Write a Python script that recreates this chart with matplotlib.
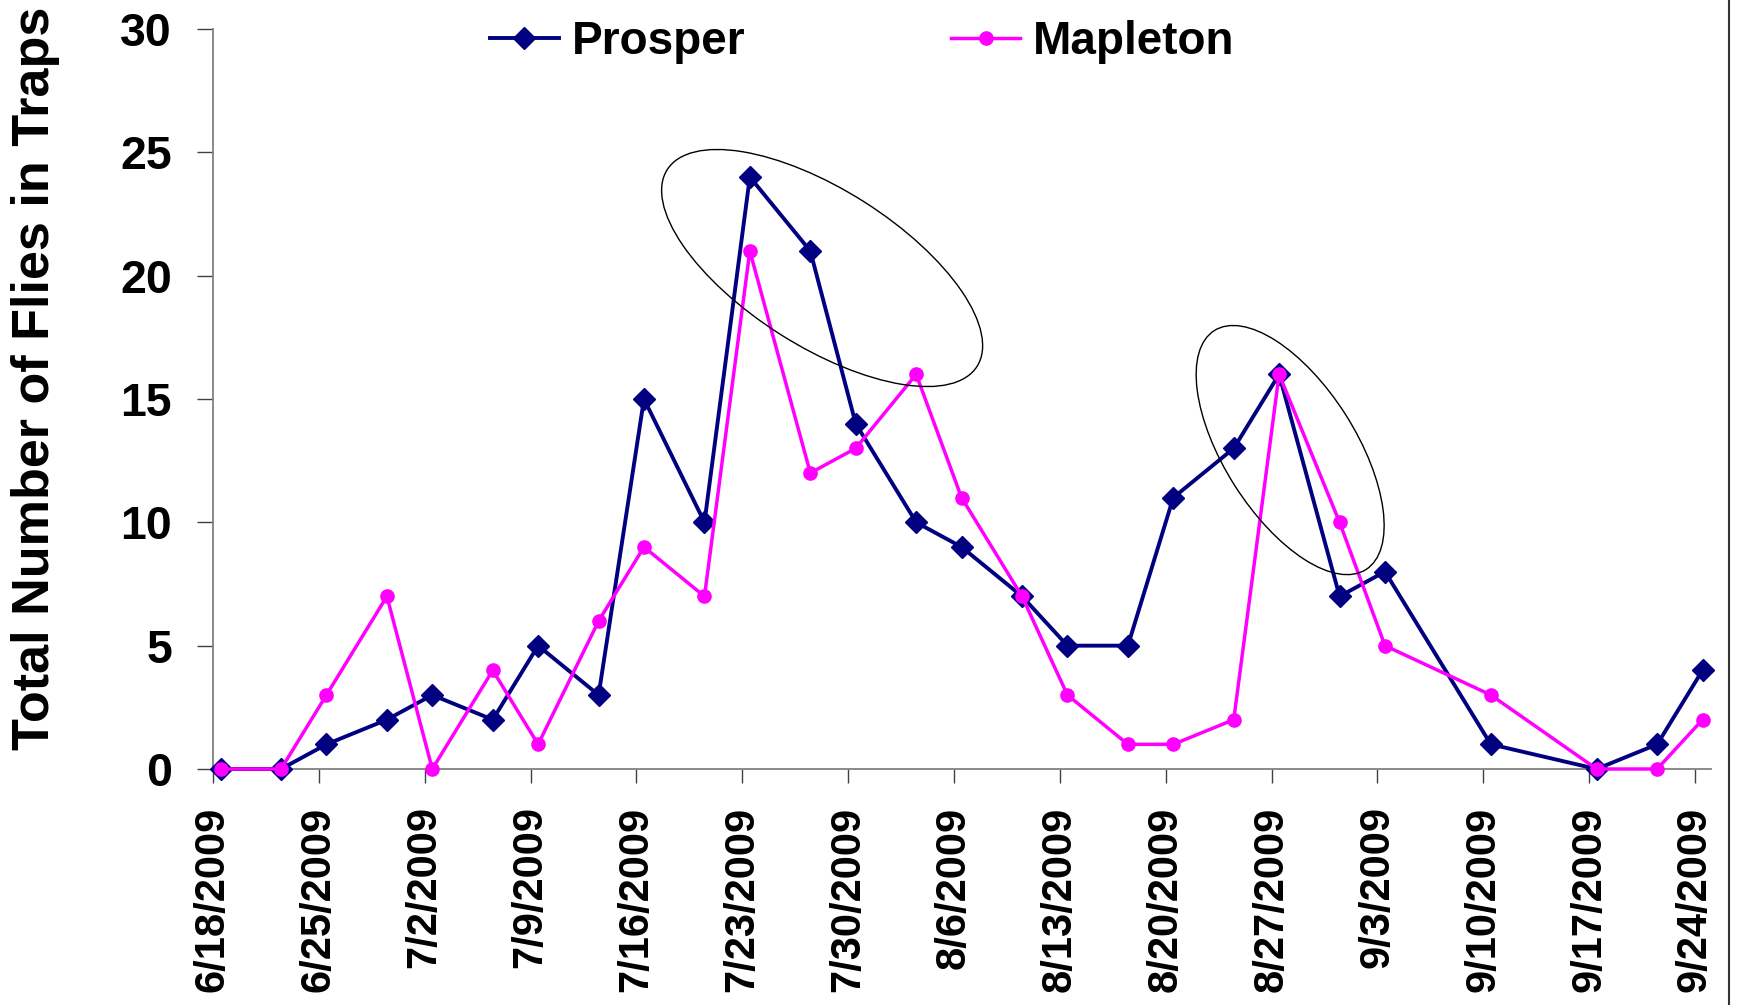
import numpy as np
import pandas as pd
import matplotlib
matplotlib.use("Agg")
import matplotlib.pyplot as plt
from matplotlib.patches import Ellipse
from matplotlib.transforms import ScaledTranslation
from matplotlib.lines import Line2D

plt.rcParams['font.family'] = ['Liberation Sans', 'DejaVu Sans']
plt.rcParams['font.weight'] = 'bold'

# trap check dates (2009) and counts
sample_dates = ['2009-06-18', '2009-06-22', '2009-06-25', '2009-06-29', '2009-07-02',
                '2009-07-06', '2009-07-09', '2009-07-13', '2009-07-16', '2009-07-20',
                '2009-07-23', '2009-07-27', '2009-07-30', '2009-08-03', '2009-08-06',
                '2009-08-10', '2009-08-13', '2009-08-17', '2009-08-20', '2009-08-24',
                '2009-08-27', '2009-08-31', '2009-09-03', '2009-09-10', '2009-09-17',
                '2009-09-21', '2009-09-24']
prosper = [0, 0, 1, 2, 3, 2, 5, 3, 15, 10, 24, 21, 14, 10, 9, 7, 5, 5, 11, 13, 16, 7, 8, 1, 0, 1, 4]
mapleton = [0, 0, 3, 7, 0, 4, 1, 6, 9, 7, 21, 12, 13, 16, 11, 7, 3, 1, 1, 2, 16, 10, 5, 3, 0, 0, 2]

tick_labels = ['6/18/2009', '6/25/2009', '7/2/2009', '7/9/2009', '7/16/2009', '7/23/2009',
               '7/30/2009', '8/6/2009', '8/13/2009', '8/20/2009', '8/27/2009', '9/3/2009',
               '9/10/2009', '9/17/2009', '9/24/2009']
y_ticks = [0, 5, 10, 15, 20, 25, 30]

# highlight ellipses: centre (days after 6/18, count), semi-axes in px, angle in deg
highlights = [
    (40.28, 20.31, 183.5, 78.4, -32.4),
    (71.23, 12.93, 141.5, 65.8, -57.6),
]

start = pd.Timestamp('2009-06-18')
x = (pd.to_datetime(sample_dates) - start).days.values + 0.5
tick_pos = (pd.to_datetime(tick_labels, format='%m/%d/%Y') - start).days.values

fig = plt.figure(figsize=(17.4, 10.05), dpi=100)
ax = fig.add_axes([213/1740, 1 - 769/1005, 1498/1740, 740/1005])

ax.plot(x, prosper, color='#000080', lw=2.8, marker='D', ms=11.5,
        mec='#000080', mfc='#000080', label='Prosper', clip_on=False, zorder=3)
ax.plot(x, mapleton, color='#FF00FF', lw=2.5, marker='o', ms=9.5,
        mec='#FF00FF', mfc='#FF00FF', label='Mapleton', clip_on=False, zorder=4)

ax.set_xlim(0, 99.06)
ax.set_ylim(0, 30)
ax.set_xticks(tick_pos)
ax.set_xticklabels(tick_labels, rotation=90)
ax.set_yticks(y_ticks)

for s in ['top', 'right']:
    ax.spines[s].set_visible(False)
for s in ['left', 'bottom']:
    ax.spines[s].set_color('#808080')
    ax.spines[s].set_linewidth(1.3)

ax.tick_params(axis='y', length=11.5, width=1, color='#404040', pad=18, labelsize=33.5)
ax.tick_params(axis='x', length=10, width=1, color='#404040', pad=17, labelsize=30)

ax.set_ylabel('Total Number of Flies in Traps', fontsize=37.5, fontweight='bold', va='center')
ax.yaxis.set_label_coords(-0.1185, 0.5277)

for cx, cy, a, b, ang in highlights:
    e = Ellipse((0, 0), 2*a/100, 2*b/100, angle=ang, fill=False, ec='black', lw=1.0,
                transform=fig.dpi_scale_trans + ScaledTranslation(cx, cy, ax.transData),
                zorder=5)
    ax.add_patch(e)

ax.legend(loc='center left', bbox_to_anchor=(490/1740, 1 - 42/1005),
          bbox_transform=fig.transFigure, ncol=2, frameon=False,
          handlelength=1.5, handletextpad=0.28, columnspacing=4.5,
          borderpad=0, borderaxespad=0,
          prop={'size': 33, 'weight': 'bold'})

# chart area border on the right edge
fig.add_artist(Line2D([1729/1740, 1729/1740], [0, 1], color='#333333', lw=1.5))

fig.savefig('out.png', dpi=100)
